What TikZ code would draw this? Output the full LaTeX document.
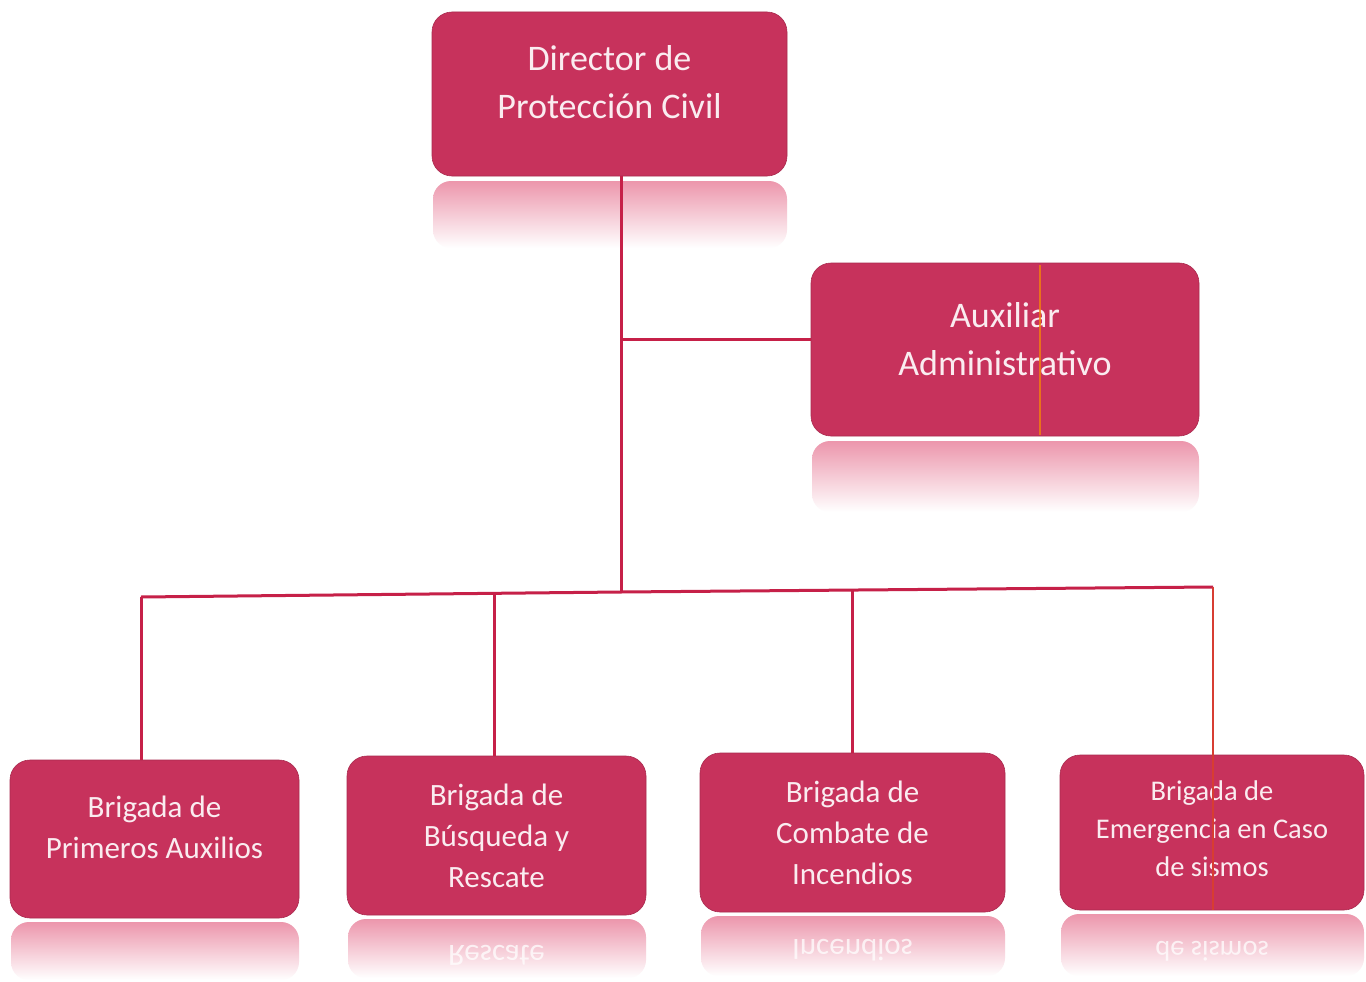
\documentclass[tikz,border=0pt]{standalone}
\usepackage{fontspec}
\setmainfont{Carlito}
\definecolor{boxred}{RGB}{199,50,92}
\definecolor{linered}{RGB}{198,32,72}
\definecolor{reflpink}{RGB}{236,150,172}
\definecolor{txtwhite}{RGB}{250,236,240}
\begin{document}
\begin{tikzpicture}[x=1pt,y=-1pt,
  box/.style={rectangle, rounded corners=20pt, fill=boxred, draw=boxred!85!black, line width=0.6pt, inner sep=0pt},
  label/.style={text=txtwhite, align=center, inner sep=0pt},
  big/.style={font=\fontsize{36}{48}\selectfont},
  mid/.style={font=\fontsize{31}{41}\selectfont},
  small/.style={font=\fontsize{28.5}{38}\selectfont},
  conn/.style={draw=linered, line width=3pt},
  refl/.style={top color=reflpink, middle color=reflpink!55, bottom color=white, rounded corners=18pt},
  mirror/.style={text=white, opacity=0.75, inner sep=0pt}
]
\useasboundingbox (0,0) rectangle (1366,982);
\fill[white] (0,0) rectangle (1366,982);

% reflections
\shade[refl] (433,181) rectangle (787,248);
\shade[refl] (812,441) rectangle (1199,512);
\shade[refl] (11,922) rectangle (299,980);
\shade[refl] (348,919) rectangle (646,978);
\shade[refl] (701,916) rectangle (1005,976);
\shade[refl] (1061,914) rectangle (1364,976);

% boxes
\node[box, minimum width=355pt, minimum height=164pt] (d) at (609.5,94) {};
\node[box, minimum width=388pt, minimum height=173pt] (a) at (1005,349.5) {};
\node[box, minimum width=289pt, minimum height=158pt] (b1) at (154.5,839) {};
\node[box, minimum width=299pt, minimum height=159pt] (b2) at (496.5,835.5) {};
\node[box, minimum width=305pt, minimum height=159pt] (b3) at (852.5,832.5) {};
\node[box, minimum width=304pt, minimum height=155pt] (b4) at (1212,832.5) {};

% texts
\node[label, big] (dT) at (609.5,82) {Director de\\Protección Civil};
\node[label, big] (aT) at (1005,339) {Auxiliar\\Administrativo};
\node[label, mid] (b1T) at (154.5,827) {Brigada de\\Primeros Auxilios};
\node[label, mid] (b2T) at (496.5,836) {Brigada de\\Búsqueda y\\Rescate};
\node[label, mid] (b3T) at (852.5,833) {Brigada de\\Combate de\\Incendios};
\node[label, small] (b4T) at (1212,829) {Brigada de\\Emergencia en Caso\\de sismos};

% mirrored reflections of last lines
\node[mirror, font=\fontsize{31}{41}\selectfont] (b2M) at (496.5,955) {\scalebox{1}[-1]{Rescate}};
\node[mirror, font=\fontsize{31}{41}\selectfont] (b3M) at (852.5,950) {\scalebox{1}[-1]{Incendios}};
\node[mirror, font=\fontsize{28.5}{38}\selectfont] (b4M) at (1212,951) {\scalebox{1}[-1]{de sismos}};

% connectors
\coordinate (j1) at (621,339);
\coordinate (j2) at (621,592);
\coordinate (h1) at (141,597);
\coordinate (h2) at (494,594);
\coordinate (h3) at (852,590);
\coordinate (h4) at (1213,587);
\draw[conn] (d.south -| j1) -- (j2);
\draw[conn] (j1) -- (a.west |- j1);
\draw[conn] (h1) -- (j2) -- (h4);
\draw[conn] (h1) -- (h1 |- b1.north);
\draw[conn] (h2) -- (h2 |- b2.north);
\draw[conn] (h3) -- (h3 |- b3.north);
\draw[draw=linered!70!orange, line width=2.2pt] (h4) -- (h4 |- b4.south);
\draw[draw=orange!80!brown, line width=1.2pt, opacity=0.8] (1040,265) -- (1040,435);
\end{tikzpicture}
\end{document}
